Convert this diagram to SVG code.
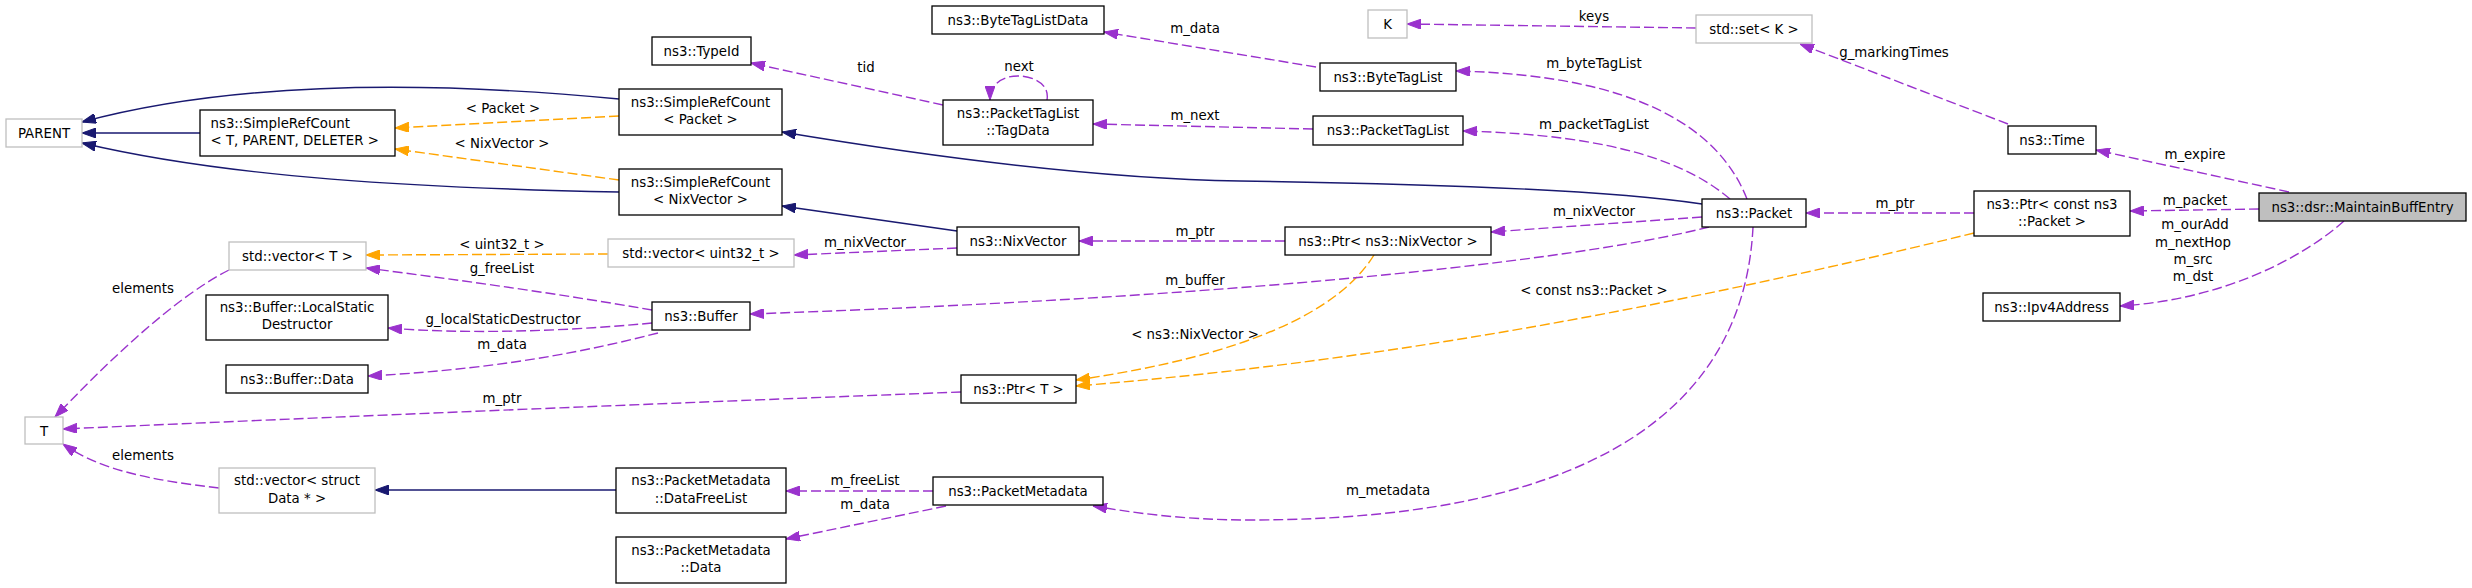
<svg xmlns="http://www.w3.org/2000/svg" width="2472" height="588" viewBox="0 0 2472 588">
<style>
text{font-family:"DejaVu Sans","Liberation Sans",sans-serif;font-size:13.33px;fill:#000}
.n rect{fill:#fff;stroke:#000;stroke-width:1.3}
.n.g rect{stroke:#bfbfbf}
.n.m rect{fill:#bfbfbf}
.n text{text-anchor:middle}
.e path{fill:none;stroke-width:1.4}
.u{stroke:#9a32cd;stroke-dasharray:10,4}
.t{stroke:#ffa500;stroke-dasharray:10,4}
.i{stroke:#191970}
.lb text{text-anchor:middle}
</style>
<defs>
<marker id="ap" viewBox="0 0 14 10" refX="14" refY="5" markerWidth="14" markerHeight="10" orient="auto" markerUnits="userSpaceOnUse"><path d="M0,0 L14,5 L0,10 z" fill="#9a32cd" stroke="#9a32cd" stroke-dasharray="none"/></marker>
<marker id="ao" viewBox="0 0 14 10" refX="14" refY="5" markerWidth="14" markerHeight="10" orient="auto" markerUnits="userSpaceOnUse"><path d="M0,0 L14,5 L0,10 z" fill="#ffa500" stroke="#ffa500" stroke-dasharray="none"/></marker>
<marker id="an" viewBox="0 0 14 10" refX="14" refY="5" markerWidth="14" markerHeight="10" orient="auto" markerUnits="userSpaceOnUse"><path d="M0,0 L14,5 L0,10 z" fill="#191970" stroke="#191970" stroke-dasharray="none"/></marker>
</defs>
<rect x="0" y="0" width="2472" height="588" fill="#fff"/>

<g id="connectors" class="e">
<!-- inheritance -->
<path class="i" marker-end="url(#an)" d="M1702,204 C1620,192 1460,184 1240,181 C1060,178 860,145 782,132"/>
<path class="i" marker-end="url(#an)" d="M957,231 L782,206"/>
<path class="i" marker-end="url(#an)" d="M619,99 C420,80 230,82 82,122"/>
<path class="i" marker-end="url(#an)" d="M200,133 L82,133"/>
<path class="i" marker-end="url(#an)" d="M619,192 C420,188 230,178 82,143"/>
<path class="i" marker-end="url(#an)" d="M616,490 L375,490"/>
<!-- template -->
<path class="t" marker-end="url(#ao)" d="M619,116 L395,128"/>
<path class="t" marker-end="url(#ao)" d="M619,180 L395,149"/>
<path class="t" marker-end="url(#ao)" d="M608,254 L366,255"/>
<path class="t" marker-end="url(#ao)" d="M1374,255 C1340,310 1250,355 1076,380"/>
<path class="t" marker-end="url(#ao)" d="M1974,233 C1700,300 1400,360 1076,386"/>
<!-- usage -->
<path class="u" marker-end="url(#ap)" d="M1974,213 L1806,213"/>
<path class="u" marker-end="url(#ap)" d="M2259,209 L2130,211"/>
<path class="u" marker-end="url(#ap)" d="M2289,192 L2096,150"/>
<path class="u" marker-end="url(#ap)" d="M2344,221 C2300,260 2220,300 2120,306"/>
<path class="u" marker-end="url(#ap)" d="M2008,124 L1800,44"/>
<path class="u" marker-end="url(#ap)" d="M1696,28 L1407,24"/>
<path class="u" marker-end="url(#ap)" d="M1747,199 C1720,130 1640,75 1456,71"/>
<path class="u" marker-end="url(#ap)" d="M1730,199 C1690,165 1620,135 1463,131"/>
<path class="u" marker-end="url(#ap)" d="M1702,217 L1491,232"/>
<path class="u" marker-end="url(#ap)" d="M1709,227 C1600,255 1300,295 750,314"/>
<path class="u" marker-end="url(#ap)" d="M1753,227 C1745,390 1620,520 1250,520 C1180,520 1130,512 1093,506"/>
<path class="u" marker-end="url(#ap)" d="M1285,241 L1079,241"/>
<path class="u" marker-end="url(#ap)" d="M957,248 L794,255"/>
<path class="u" marker-end="url(#ap)" d="M961,392 C700,402 400,414 63,429"/>
<path class="u" marker-end="url(#ap)" d="M652,310 C560,294 460,280 366,268"/>
<path class="u" marker-end="url(#ap)" d="M652,323 C560,332 460,334 388,328"/>
<path class="u" marker-end="url(#ap)" d="M658,333 C610,345 520,368 368,376"/>
<path class="u" marker-end="url(#ap)" d="M229,270 C170,300 100,370 55,417"/>
<path class="u" marker-end="url(#ap)" d="M219,488 C150,480 100,470 63,444"/>
<path class="u" marker-end="url(#ap)" d="M933,491 L786,491"/>
<path class="u" marker-end="url(#ap)" d="M946,506 L786,539"/>
<path class="u" marker-end="url(#ap)" d="M1316,67 L1104,32"/>
<path class="u" marker-end="url(#ap)" d="M943,105 L751,63"/>
<path class="u" marker-end="url(#ap)" d="M1047,100 C1050,82 1030,76 1018,76 C1000,76 990,86 990,100"/>
<path class="u" marker-end="url(#ap)" d="M1313,129 L1093,124"/>
<g class="lb">
<text x="503" y="113">&lt; Packet &gt;</text>
<text x="502" y="148">&lt; NixVector &gt;</text>
<text x="502" y="249">&lt; uint32_t &gt;</text>
<text x="502" y="273">g_freeList</text>
<text x="143" y="293">elements</text>
<text x="503" y="324">g_localStaticDestructor</text>
<text x="502" y="349">m_data</text>
<text x="502" y="403">m_ptr</text>
<text x="143" y="460">elements</text>
<text x="866" y="72">tid</text>
<text x="1019" y="71">next</text>
<text x="1195" y="33">m_data</text>
<text x="1195" y="120">m_next</text>
<text x="865" y="247">m_nixVector</text>
<text x="1195" y="236">m_ptr</text>
<text x="1195" y="285">m_buffer</text>
<text x="1195" y="339">&lt; ns3::NixVector &gt;</text>
<text x="865" y="485">m_freeList</text>
<text x="865" y="509">m_data</text>
<text x="1594" y="21">keys</text>
<text x="1594" y="68">m_byteTagList</text>
<text x="1594" y="129">m_packetTagList</text>
<text x="1594" y="216">m_nixVector</text>
<text x="1594" y="295">&lt; const ns3::Packet &gt;</text>
<text x="1388" y="495">m_metadata</text>
<text x="1894" y="57">g_markingTimes</text>
<text x="1895" y="208">m_ptr</text>
<text x="2195" y="159">m_expire</text>
<text x="2195" y="205">m_packet</text>
<text x="2195" y="229">m_ourAdd</text>
<text x="2193" y="247">m_nextHop</text>
<text x="2193" y="264">m_src</text>
<text x="2193" y="281">m_dst</text>
</g>
</g>

<g id="MaintainBuffEntry" class="n m"><rect x="2259" y="193" width="207" height="28"/><text x="2362.5" y="212">ns3::dsr::MaintainBuffEntry</text></g>
<g id="Time" class="n"><rect x="2008" y="126" width="88" height="28"/><text x="2052" y="145">ns3::Time</text></g>
<g id="PtrConstPacket" class="n"><rect x="1974" y="191" width="156" height="45"/><text x="2052" y="209">ns3::Ptr&lt; const ns3</text><text x="2052" y="225.5">::Packet &gt;</text></g>
<g id="Ipv4Address" class="n"><rect x="1983" y="293" width="137" height="28"/><text x="2051.5" y="312">ns3::Ipv4Address</text></g>
<g id="Packet" class="n"><rect x="1702" y="199" width="104" height="28"/><text x="1754" y="218">ns3::Packet</text></g>
<g id="StdSetK" class="n g"><rect x="1696" y="15" width="116" height="28"/><text x="1754" y="34">std::set&lt; K &gt;</text></g>
<g id="K" class="n g"><rect x="1368" y="10" width="39" height="28"/><text x="1387.5" y="29">K</text></g>
<g id="ByteTagList" class="n"><rect x="1320" y="63" width="136" height="28"/><text x="1388" y="82">ns3::ByteTagList</text></g>
<g id="PacketTagList" class="n"><rect x="1313" y="116" width="150" height="29"/><text x="1388" y="135">ns3::PacketTagList</text></g>
<g id="PtrNixVector" class="n"><rect x="1285" y="227" width="206" height="28"/><text x="1388" y="246">ns3::Ptr&lt; ns3::NixVector &gt;</text></g>
<g id="ByteTagListData" class="n"><rect x="932" y="6" width="172" height="28"/><text x="1018" y="25">ns3::ByteTagListData</text></g>
<g id="TagData" class="n"><rect x="943" y="100" width="150" height="45"/><text x="1018" y="117.5">ns3::PacketTagList</text><text x="1018" y="135">::TagData</text></g>
<g id="TypeId" class="n"><rect x="652" y="37" width="99" height="28"/><text x="701.5" y="56">ns3::TypeId</text></g>
<g id="SimpleRefCountPacket" class="n"><rect x="619" y="89" width="163" height="46"/><text x="700.5" y="107">ns3::SimpleRefCount</text><text x="700.5" y="124">&lt; Packet &gt;</text></g>
<g id="SimpleRefCountNixVector" class="n"><rect x="619" y="169" width="163" height="46"/><text x="700.5" y="187">ns3::SimpleRefCount</text><text x="700.5" y="204">&lt; NixVector &gt;</text></g>
<g id="NixVector" class="n"><rect x="957" y="227" width="122" height="28"/><text x="1018" y="246">ns3::NixVector</text></g>
<g id="StdVectorUint32" class="n g"><rect x="608" y="239" width="186" height="28"/><text x="701" y="258">std::vector&lt; uint32_t &gt;</text></g>
<g id="Buffer" class="n"><rect x="652" y="302" width="98" height="28"/><text x="701" y="321">ns3::Buffer</text></g>
<g id="PtrT" class="n"><rect x="961" y="375" width="115" height="28"/><text x="1018.5" y="394">ns3::Ptr&lt; T &gt;</text></g>
<g id="PacketMetadata" class="n"><rect x="933" y="477" width="170" height="28"/><text x="1018" y="496">ns3::PacketMetadata</text></g>
<g id="DataFreeList" class="n"><rect x="616" y="468" width="170" height="45"/><text x="701" y="485">ns3::PacketMetadata</text><text x="701" y="502.5">::DataFreeList</text></g>
<g id="PacketMetadataData" class="n"><rect x="616" y="537" width="170" height="46"/><text x="701" y="555">ns3::PacketMetadata</text><text x="701" y="571.5">::Data</text></g>
<g id="PARENT" class="n g"><rect x="6" y="119" width="76" height="28"/><text x="44" y="137.5">PARENT</text></g>
<g id="SimpleRefCountT" class="n"><rect x="200" y="110" width="195" height="46"/><text x="210.5" y="128" style="text-anchor:start">ns3::SimpleRefCount</text><text x="210.5" y="145" style="text-anchor:start">&lt; T, PARENT, DELETER &gt;</text></g>
<g id="StdVectorT" class="n g"><rect x="229" y="242" width="137" height="28"/><text x="297.5" y="261">std::vector&lt; T &gt;</text></g>
<g id="LocalStaticDestructor" class="n"><rect x="206" y="295" width="182" height="45"/><text x="297" y="311.5">ns3::Buffer::LocalStatic</text><text x="297" y="329">Destructor</text></g>
<g id="BufferData" class="n"><rect x="226" y="365" width="142" height="28"/><text x="297" y="384">ns3::Buffer::Data</text></g>
<g id="T" class="n g"><rect x="25" y="417" width="38" height="27"/><text x="44" y="435.5">T</text></g>
<g id="StdVectorStructData" class="n g"><rect x="219" y="468" width="156" height="45"/><text x="297" y="485">std::vector&lt; struct</text><text x="297" y="503">Data * &gt;</text></g>
</svg>
